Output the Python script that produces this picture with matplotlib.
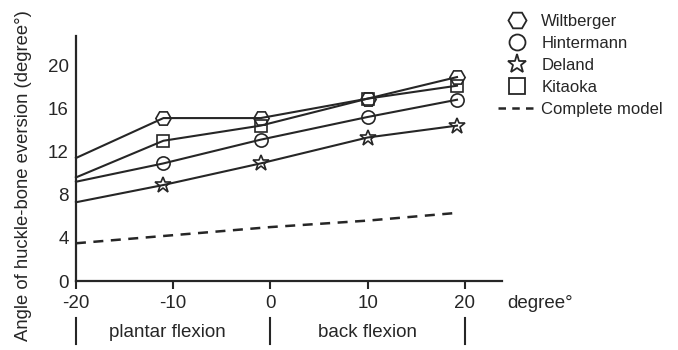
import matplotlib

matplotlib.use("Agg")
import matplotlib.pyplot as plt
from matplotlib.lines import Line2D

plt.rcParams["font.family"] = ["Liberation Sans", "DejaVu Sans"]
plt.rcParams["axes.unicode_minus"] = False

# measured flexion angles (deg) and eversion angle (deg)
angles = [-20, -11, -1, 10, 19.2]
wiltberger = [11.4, 15.1, 15.1, 16.9, 18.9]
hintermann = [9.2, 10.9, 13.1, 15.2, 16.8]
deland = [7.3, 8.9, 10.9, 13.3, 14.4]
kitaoka = [9.6, 13.0, 14.4, 16.9, 18.1]

model_angles = [-20, 0, 10, 19]
model = [3.5, 5.0, 5.6, 6.3]

xticks = [-20, -10, 0, 10, 20]
yticks = [0, 4, 8, 12, 16, 20]

INK = "#262626"

fig = plt.figure(figsize=(6.78, 3.5), dpi=100)
ax = fig.add_axes([0.112, 0.197, 0.628, 0.70])

series = [
    ("Wiltberger", wiltberger, "H", 11),
    ("Hintermann", hintermann, "o", 9.5),
    ("Deland", deland, "*", 12),
    ("Kitaoka", kitaoka, "s", 9),
]
handles = []
for name, vals, mk, ms in series:
    # no marker on the starting point at the axis
    ax.plot(angles, vals, color=INK, lw=1.5, marker=mk, ms=ms,
            markevery=[1, 2, 3, 4], mfc="none", mec=INK, mew=1.2,
            clip_on=False, zorder=3)
    handles.append(Line2D([], [], ls="none", marker=mk, ms=ms + 2,
                          mfc="none", mec=INK, mew=1.3, label=name))

ax.plot(model_angles, model, color=INK, lw=1.8, ls=(0, (4, 3)))
handles.append(Line2D([], [], color=INK, lw=1.8, ls=(0, (3, 2.5)),
                      label="Complete model"))

ax.set_xlim(-20, 23.8)
ax.set_ylim(0, 22.7)
ax.set_xticks(xticks)
ax.set_yticks(yticks)
ax.tick_params(axis="x", length=6, width=1.5, color=INK, labelsize=13.5,
               labelcolor=INK, pad=4)
ax.tick_params(axis="y", length=0, labelsize=13.5, labelcolor=INK, pad=5)
for side in ("top", "right"):
    ax.spines[side].set_visible(False)
for side in ("left", "bottom"):
    ax.spines[side].set_linewidth(1.6)
    ax.spines[side].set_color(INK)

ax.set_ylabel("Angle of huckle-bone eversion (degree°)", fontsize=13.3,
              color=INK)
ax.yaxis.set_label_coords(-0.103, 0.43)

# flexion region annotations under the x axis
xt = ax.get_xaxis_transform()
for xv in (-20, 0, 20):
    ax.plot([xv, xv], [-0.15, -0.255], transform=xt, color=INK, lw=1.5,
            clip_on=False)
ax.text(-10.6, -0.21, "plantar flexion", transform=xt, ha="center",
        va="center", fontsize=13.5, color=INK)
ax.text(10.0, -0.21, "back flexion", transform=xt, ha="center",
        va="center", fontsize=13.5, color=INK)
ax.text(24.4, -0.09, "degree°", transform=xt, ha="left", va="center",
        fontsize=13.5, color=INK)

fig.legend(handles=handles, loc="upper left",
           bbox_to_anchor=(0.722, 0.985), frameon=False, fontsize=12,
           handlelength=2.3, handletextpad=0.3, labelspacing=0.42,
           borderpad=0, labelcolor=INK)

fig.savefig("out.png", dpi=100)
